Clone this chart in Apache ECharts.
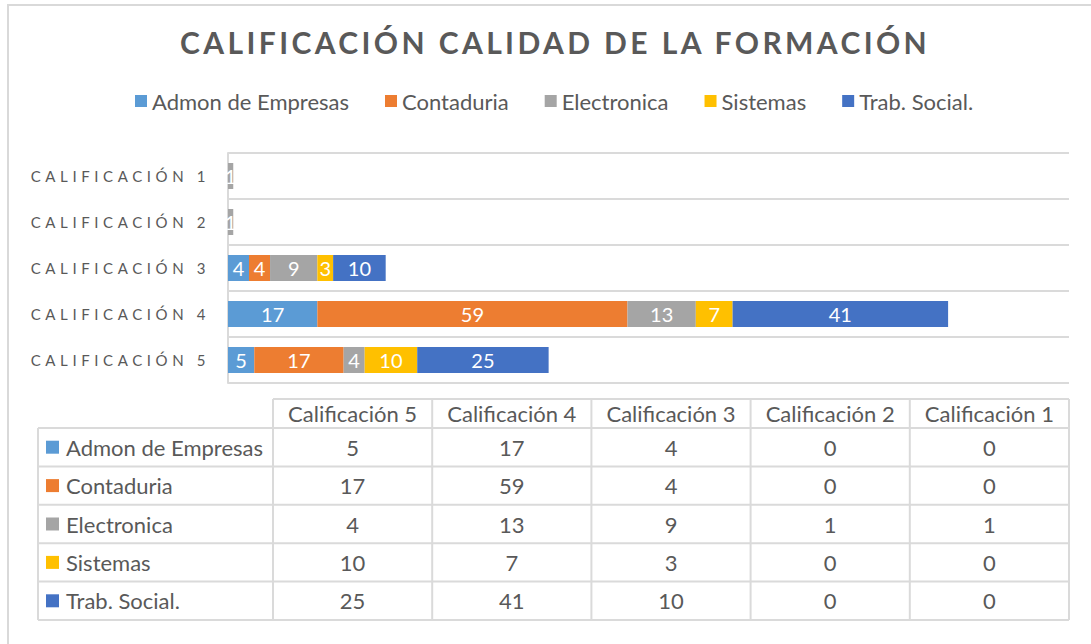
<!DOCTYPE html>
<html>
<head>
<meta charset="utf-8">
<script src="https://cdn.jsdelivr.net/npm/echarts@6/dist/echarts.min.js"></script>
<style>
    html, body { margin: 0; padding: 0; background: #fff; }
    #main { width: 1091px; height: 644px; }
    /* espaciado de letras como en Excel (titulo y etiquetas del eje) */
    #main svg text[style*="30px"] { letter-spacing: 3.4px; }
    #main svg text[style*="15px"] { letter-spacing: 4.6px; }
</style>
</head>
<body>
<div id="main"></div>
<script>
// datos
var titulo = 'CALIFICACIÓN CALIDAD DE LA FORMACIÓN';
var categorias = ['Calificación 5', 'Calificación 4', 'Calificación 3', 'Calificación 2', 'Calificación 1'];
var programas = ['Admon de Empresas', 'Contaduria', 'Electronica', 'Sistemas', 'Trab. Social.'];
var admon = [5, 17, 4, 0, 0];
var contaduria = [17, 59, 4, 0, 0];
var electronica = [4, 13, 9, 1, 1];
var sistemas = [10, 7, 3, 0, 0];
var trabSocial = [25, 41, 10, 0, 0];
var colores = ['#5B9BD5', '#ED7D31', '#A5A5A5', '#FFC000', '#4472C4'];

var valores = [admon, contaduria, electronica, sistemas, trabSocial];
var fuente = 'Lato';
var gris = '#595959';
var linea = '#DADADA';

// tabla de datos debajo del grafico
var tabla = {
    left: 38, colLabel: 273, right: 1069,
    headTop: 399, headBottom: 428, rowH: 38.4
};
var colW = (tabla.right - tabla.colLabel) / categorias.length;
var bottom = tabla.headBottom + tabla.rowH * programas.length;

var graficos = [];
// marco exterior
graficos.push({
    type: 'rect', shape: { x: 8, y: 5, width: 1200, height: 800 },
    style: { fill: 'none', stroke: '#D9D9D9', lineWidth: 2 }, silent: true
});
function segmento(x1, y1, x2, y2) {
    graficos.push({
        type: 'line', shape: { x1: x1, y1: y1, x2: x2, y2: y2 },
        style: { stroke: linea, lineWidth: 2 }, silent: true
    });
}
segmento(tabla.colLabel, tabla.headTop, tabla.right, tabla.headTop);
for (var r = 0; r <= programas.length; r++) {
    var y = tabla.headBottom + r * tabla.rowH;
    segmento(tabla.left, y, tabla.right, y);
}
segmento(tabla.left, tabla.headBottom, tabla.left, bottom);
for (var c = 0; c <= categorias.length; c++) {
    var x = tabla.colLabel + c * colW;
    segmento(x, tabla.headTop, x, bottom);
}
// encabezados (en el mismo orden que la tabla de Excel)
categorias.forEach(function (cat, c) {
    graficos.push({
        type: 'text', x: tabla.colLabel + (c + 0.5) * colW, y: (tabla.headTop + tabla.headBottom) / 2,
        style: { text: cat, fill: gris, font: '22px ' + fuente, align: 'center', verticalAlign: 'middle' },
        silent: true
    });
});
programas.forEach(function (prog, r) {
    var yc = tabla.headBottom + (r + 0.5) * tabla.rowH;
    graficos.push({
        type: 'rect', shape: { x: 46, y: yc - 6.5, width: 13, height: 13 },
        style: { fill: colores[r] }, silent: true
    });
    graficos.push({
        type: 'text', x: 66, y: yc,
        style: { text: prog, fill: gris, font: '22px ' + fuente, align: 'left', verticalAlign: 'middle' },
        silent: true
    });
    valores[r].forEach(function (v, c) {
        graficos.push({
            type: 'text', x: tabla.colLabel + (c + 0.5) * colW, y: yc,
            style: { text: String(v), fill: gris, font: '22px ' + fuente, align: 'center', verticalAlign: 'middle' },
            silent: true
        });
    });
});

var series = programas.map(function (prog, i) {
    return {
        name: prog,
        type: 'bar',
        stack: 'total',
        barWidth: 26,
        itemStyle: { color: colores[i] },
        label: {
            show: true,
            position: 'inside',
            color: '#fff',
            fontFamily: fuente,
            fontSize: 20,
            // los ceros quedan ocultos sobre el eje
            formatter: function (p) { return p.value === 0 ? '' : p.value; }
        },
        data: valores[i]
    };
});

var myChart = echarts.init(document.getElementById('main'), null, { renderer: 'svg' });

var option = {
    animation: false,
    backgroundColor: '#fff',
    color: colores,
    title: {
        text: titulo,
        left: 175,
        top: 22,
        textStyle: {
            color: gris,
            fontFamily: fuente,
            fontWeight: 'bold',
            fontSize: 30
        }
    },
    legend: {
        data: programas,
        top: 85,
        left: 130,
        icon: 'rect',
        itemWidth: 12,
        itemHeight: 12,
        itemGap: 36,
        textStyle: { color: gris, fontFamily: fuente, fontSize: 22 }
    },
    grid: {
        left: 228,
        right: 22,
        top: 153,
        bottom: 644 - 383,
        containLabel: false
    },
    xAxis: {
        type: 'value',
        min: 0,
        max: 160,
        axisLabel: { show: false },
        axisLine: { show: false },
        axisTick: { show: false },
        splitLine: { show: false }
    },
    yAxis: {
        type: 'category',
        data: categorias,
        axisTick: { show: false },
        axisLine: { show: true, lineStyle: { color: linea, width: 2 } },
        splitLine: { show: true, lineStyle: { color: linea, width: 2 } },
        axisLabel: {
            color: gris,
            fontFamily: fuente,
            fontSize: 15,
            margin: 18,
            formatter: function (v) { return v.toUpperCase(); }
        }
    },
    graphic: graficos,
    series: series
};

myChart.setOption(option);
</script>
</body>
</html>
